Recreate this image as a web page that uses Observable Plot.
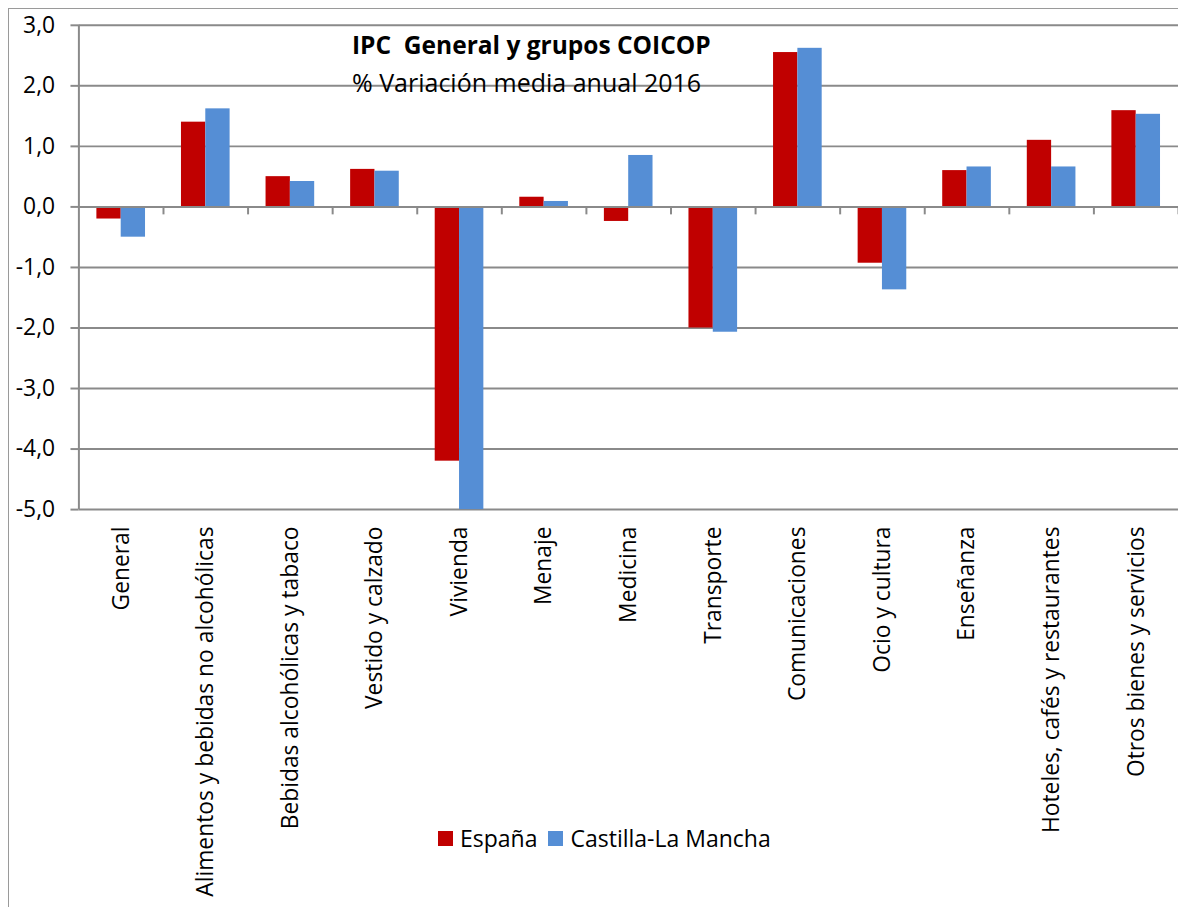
<!DOCTYPE html>
<html>
<head>
<meta charset="utf-8">
<script src="https://cdn.jsdelivr.net/npm/d3@7"></script>
<script src="https://cdn.jsdelivr.net/npm/@observablehq/plot@0.6"></script>
<style>
  body { margin: 0; background: #fff; font-family: "Open Sans", sans-serif; }
  #wrap { position: relative; width: 1178px; height: 907px; overflow: hidden; background: #fff; }
  #border { position: absolute; left: 8px; top: 8px; width: 1300px; height: 1000px; border: 1.5px solid #9a9a9a; box-sizing: border-box; }
  #chart { position: absolute; left: 0; top: 0; }
  #title { position: absolute; left: 352px; top: 33px; font-size: 24.5px; font-weight: bold; white-space: pre; line-height: 1; color: #000; }
  #subtitle { position: absolute; left: 352px; top: 70px; font-size: 25px; white-space: pre; line-height: 1; color: #000; }
  #legend { position: absolute; left: 438px; top: 822px; font-size: 23px; display: flex; align-items: center; color: #000; white-space: pre; }
  .sw { display: inline-block; width: 15px; height: 15px; margin-right: 7px; }
</style>
</head>
<body>
<div id="wrap">
  <div id="border"></div>
  <div id="chart"></div>
  <div id="title">IPC  General y grupos COICOP</div>
  <div id="subtitle">% Variación media anual 2016</div>
  <div id="legend"></div>
</div>
<script>
const categories = [
  "General",
  "Alimentos y bebidas no alcohólicas",
  "Bebidas alcohólicas y tabaco",
  "Vestido y calzado",
  "Vivienda",
  "Menaje",
  "Medicina",
  "Transporte",
  "Comunicaciones",
  "Ocio y cultura",
  "Enseñanza",
  "Hoteles, cafés y restaurantes",
  "Otros bienes y servicios"
];
const series = ["España", "Castilla-La Mancha"];
const espana = [-0.2, 1.4, 0.5, 0.62, -4.2, 0.16, -0.24, -2.0, 2.55, -0.93, 0.6, 1.1, 1.59];
const clm = [-0.5, 1.62, 0.42, 0.59, -5.0, 0.09, 0.85, -2.07, 2.62, -1.37, 0.66, 0.66, 1.53];
const colors = ["#C00000", "#558ED5"];
const yTicks = [-5, -4, -3, -2, -1, 0, 1, 2, 3];

const rows = categories.flatMap((c, i) => [
  {i, s: series[0], v: espana[i]},
  {i, s: series[1], v: clm[i]}
]);
const gap = 0.2125;

const chart = Plot.plot({
  width: 1187,
  height: 907,
  marginLeft: 79,
  marginRight: 0,
  marginTop: 25,
  marginBottom: 394,
  style: {fontFamily: "Open Sans", fontSize: "22px", color: "#000", background: "transparent"},
  x: {domain: [0, categories.length]},
  y: {domain: [-5, 3]},
  color: {domain: series, range: colors},
  marks: [
    Plot.ruleY(yTicks, {stroke: "#8a8a8a", strokeWidth: 2}),
    Plot.axisY({ticks: yTicks, label: null, tickFormat: d => d.toFixed(1).replace(".", ","), tickSize: 8, tickPadding: 16, stroke: "#8a8a8a", strokeWidth: 2, fill: "#000", fontSize: 23}),
    Plot.ruleX([0], {y1: -5, y2: 3, stroke: "#8a8a8a", strokeWidth: 2}),
    Plot.rectY(rows, {
      x1: d => d.i + (d.s === series[0] ? gap : 0.5),
      x2: d => d.i + (d.s === series[0] ? 0.5 : 1 - gap),
      y1: 0,
      y2: "v",
      fill: "s"
    }),
    Plot.ruleY([0], {stroke: "#8a8a8a", strokeWidth: 2}),
    Plot.ruleX(d3.range(1, categories.length + 1), {y1: 0, y2: 0, insetBottom: -8, stroke: "#8a8a8a", strokeWidth: 2}),
    Plot.axisX({
      ticks: d3.range(categories.length).map(i => i + 0.5),
      tickFormat: d => categories[Math.floor(d)],
      label: null,
      tickRotate: -90,
      tickSize: 0,
      tickPadding: 17,
      fontSize: 23,
      fill: "#000"
    })
  ]
});
document.getElementById("chart").appendChild(chart);

const legend = document.getElementById("legend");
series.forEach((s, k) => {
  const sw = document.createElement("span");
  sw.className = "sw";
  sw.style.background = colors[k];
  legend.appendChild(sw);
  const t = document.createElement("span");
  t.textContent = s;
  t.style.marginRight = k === 0 ? "11px" : "0";
  legend.appendChild(t);
});
</script>
</body>
</html>
